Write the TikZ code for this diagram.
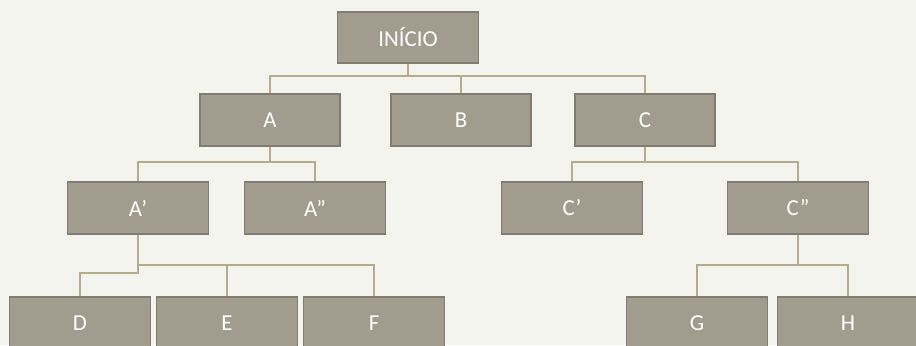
\documentclass[tikz,border=0pt]{standalone}
\usepackage{fontspec}
\setmainfont{Carlito}
\usetikzlibrary{positioning}
\definecolor{orgbg}{RGB}{244,244,239}
\definecolor{orgfill}{RGB}{162,156,142}
\definecolor{orgedge}{RGB}{130,125,115}
\definecolor{orglink}{RGB}{180,172,140}

\begin{document}
\begin{tikzpicture}[x=0.02cm,y=-0.02cm,
      box/.style={draw=orgedge,fill=orgfill,text=white,line width=.6pt,
        minimum width=2.82cm,minimum height=1.04cm,inner sep=0pt,
        font=\fontsize{13}{15}\selectfont},
      link/.style={draw=orglink,line width=1.1pt}]
      \fill[orgbg] (0,0) rectangle (916,345);
      \useasboundingbox (0,0) rectangle (916,345);
      % levels
      \node[box,minimum height=1.02cm] (ini) at (408,37.5) {INÍCIO};
      \node[box,minimum width=2.8cm] (a) at (270,120) {A};
      \node[box,minimum width=2.8cm] (b) at (461,120) {B};
      \node[box,minimum width=2.8cm] (c) at (645,120) {C};
      \node[box] (a1) at (138,208) {A’};
      \node[box] (a2) at (315,208) {A”};
      \node[box] (c1) at (572,208) {C’};
      \node[box] (c2) at (798,208) {C”};
      \node[box] (d) at (80,323) {D};
      \node[box,right=0.1cm of d] (e) {E};
      \node[box,right=0.1cm of e] (f) {F};
      \node[box] (g) at (697,323) {G};
      \node[box,right=0.18cm of g] (h) {H};
      % junctions
      \coordinate (j0) at (408,76);
      \coordinate (j1) at (270,162);
      \coordinate (j2) at (645,162);
      \coordinate (j3) at (138,265);
      \coordinate (j5) at (138,273);
      \coordinate (j4) at (798,265);
      \draw[link] (ini) -- (j0);
      \draw[link] (a) |- (j0) -| (c);
      \draw[link] (b) -- (b |- j0);
      \draw[link] (a) -- (j1);
      \draw[link] (a1) |- (j1) -| (a2);
      \draw[link] (c) -- (j2);
      \draw[link] (c1) |- (j2) -| (c2);
      \draw[link] (a1) -- (j3) -| (f);
      \draw[link] (e) -- (e |- j3);
      \draw[link] (j3) -- (j5) -| (d);
      \draw[link] (c2) -- (j4);
      \draw[link] (g) |- (j4) -| (h);
    \end{tikzpicture}
\end{document}
